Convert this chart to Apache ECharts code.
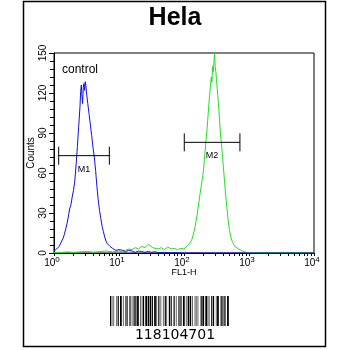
<!DOCTYPE html>
<html><head><meta charset="utf-8">
<script src="https://cdn.jsdelivr.net/npm/echarts@6/dist/echarts.min.js"></script>
<style>html,body{margin:0;padding:0;background:#fff}#c{width:350px;height:350px}</style>
</head><body><div id="c"></div>
<script>
const chartTitle = 'Hela';
const xAxisName = 'FL1-H';
const yAxisName = 'Counts';
const barcodeText = '118104701';
const controlLabel = 'control';

const xLabelValues = [1, 10, 100, 1000, 10000];
const xTickValues = [1,2,3,4,5,6,7,8,9,10,20,30,40,50,60,70,80,90,100,200,300,400,500,600,700,800,900,1000,2000,3000,4000,5000,6000,7000,8000,9000,10000];
const yMin = 0, yMax = 150, yStep = 30;

// control (blue): log10 channel position and counts
const controlExp = [0.00,0.02,0.04,0.06,0.08,0.10,0.12,0.14,0.16,0.18,0.20,0.22,0.24,0.26,0.28,0.30,0.32,0.34,0.36,0.38,0.40,0.41,0.42,0.43,0.44,0.45,0.46,0.47,0.48,0.49,0.50,0.52,0.54,0.56,0.58,0.60,0.62,0.64,0.66,0.68,0.70,0.72,0.74,0.76,0.78,0.80,0.82,0.84,0.86,0.88,0.90,0.92,0.95,0.98,1.00,1.03,1.06,1.10,1.15,1.20,1.25,1.30,1.35,1.40,1.45,1.50,1.55,1.60,1.70,1.80,1.90,2.00,2.50,3.00,3.50,4.00];
const controlCounts = [1.5,2,3,3.5,5,6.5,9,11,14,18,22,27,33,36,42,47,54,66,80,95,110,121,126,118,112,124,127,122,128.5,126,120,112,104,96,88,79,72,62,50,40,32,26,20,16,12,9,7,6.5,5,4,3.5,3,2,1.5,2.5,1,2,1,2,1.5,0.5,1.5,1,0.5,1.2,0.5,1,0.3,0.5,0.2,0.3,0,0,0,0,0];

// sample (green)
const sampleExp = [0.00,0.10,0.20,0.30,0.40,0.50,0.60,0.70,0.80,0.90,1.00,1.05,1.10,1.15,1.20,1.25,1.30,1.35,1.40,1.45,1.48,1.52,1.55,1.60,1.65,1.70,1.75,1.80,1.85,1.90,1.95,2.00,2.04,2.08,2.12,2.16,2.20,2.24,2.28,2.30,2.32,2.34,2.36,2.38,2.40,2.42,2.43,2.44,2.45,2.46,2.47,2.48,2.49,2.50,2.52,2.54,2.56,2.58,2.60,2.62,2.64,2.66,2.68,2.70,2.72,2.74,2.76,2.78,2.80,2.84,2.88,2.92,2.96,3.00,3.20,3.50,3.80,4.00];
const sampleCounts = [0.5,0.3,0.8,0.5,0.8,1.2,0.6,1,1.5,0.8,1.5,0.8,2,3,2.5,4,3,5,4,6.5,7.5,4,5.5,3,4,2.5,4.5,3,3.5,2.5,3.5,3,5,6.5,10,17,28,42,55,62,74,85,96,110,122,132,128,140,136,143,150,140,136,130,118,105,90,80,68,56,44,34,24,17,12,9,7,5,4,3,2,1,0.5,0.3,0.2,0.1,0.2,0];

// gate markers
const markerNames = ['M1', 'M2'];
const markerFrom = [1.18, 101];
const markerTo = [7.1, 725];
const markerLevel = [73, 83];

// barcode module widths (bar, space, bar, ...)
const barcodeModules = '211214112232131123221221213212112231312122311222131221132123221311211232123122131112142132311113212311332111211232';

const font = 'Liberation Sans, Arial, sans-serif';
const chart = echarts.init(document.getElementById('c'), null, {renderer: 'canvas'});

const toPairs = (ex, cs) => ex.map((e, i) => [Math.pow(10, e), cs[i]]);

// barcode graphic
const bcChildren = [];
(function () {
  const total = barcodeModules.split('').reduce((s, c) => s + (+c), 0);
  const w = 120, unit = w / total;
  let x = 0;
  barcodeModules.split('').forEach((c, i) => {
    const m = +c * unit;
    if (i % 2 === 0) bcChildren.push({type: 'rect', shape: {x: x, y: 0, width: m, height: 30}, style: {fill: '#000'}});
    x += m;
  });
})();

chart.setOption({
  animation: false,
  backgroundColor: '#fff',
  title: {
    text: chartTitle, left: 'center', top: 1,
    textStyle: {fontFamily: font, fontSize: 25, fontWeight: 'bold', color: '#000'}
  },
  grid: {left: 54, top: 53, width: 260, height: 200, show: true, borderColor: '#000', borderWidth: 1, containLabel: false},
  xAxis: {
    type: 'log', logBase: 10, min: 1, max: 10000,
    name: xAxisName, nameLocation: 'middle', nameGap: 15, nameMoveOverlap: false,
    nameTextStyle: {fontFamily: font, fontSize: 9, color: '#000'},
    axisLine: {show: true, lineStyle: {color: '#000', width: 1}},
    axisTick: {show: true, inside: false, length: 3, customValues: xTickValues, lineStyle: {color: '#000'}},
    axisLabel: {
      customValues: xLabelValues, margin: 3, color: '#000',
      formatter: v => '{b|10}{s|' + Math.round(Math.log10(v)) + '}',
      rich: {b: {fontFamily: font, fontSize: 10, color: '#000', verticalAlign: 'bottom'}, s: {fontFamily: font, fontSize: 8, color: '#000', verticalAlign: 'top', padding: [0, 0, 4, 0]}},
      padding: [0, 4, 0, 0]
    },
    splitLine: {show: false}
  },
  yAxis: {
    type: 'value', min: yMin, max: yMax, interval: yStep,
    name: yAxisName, nameLocation: 'middle', nameGap: 18, nameRotate: 90, nameMoveOverlap: false,
    nameTextStyle: {fontFamily: font, fontSize: 10, color: '#000'},
    axisLine: {show: true, lineStyle: {color: '#000', width: 1}},
    axisTick: {show: true, inside: false, length: 5, lineStyle: {color: '#000'}},
    minorTick: {show: true, splitNumber: 5, length: 4, lineStyle: {color: '#000'}},
    axisLabel: {rotate: 90, margin: 6, fontFamily: font, fontSize: 10, color: '#000'},
    splitLine: {show: false}, minorSplitLine: {show: false}
  },
  series: [
    {
      type: 'line', name: 'sample', data: toPairs(sampleExp, sampleCounts),
      showSymbol: false, symbol: 'none', lineStyle: {color: '#22e022', width: 1}, z: 2
    },
    {
      type: 'line', name: 'control', data: toPairs(controlExp, controlCounts),
      showSymbol: false, symbol: 'none', lineStyle: {color: '#1010e0', width: 1}, z: 3
    },
    {
      type: 'custom', name: 'markers', z: 5,
      data: markerNames.map((n, i) => [markerFrom[i], markerTo[i], markerLevel[i], n]),
      encode: {x: [0, 1], y: 2},
      renderItem: function (params, api) {
        const p1 = api.coord([api.value(0), api.value(2)]);
        const p2 = api.coord([api.value(1), api.value(2)]);
        const st = {stroke: '#000', lineWidth: 1};
        return {type: 'group', children: [
          {type: 'line', shape: {x1: p1[0], y1: p1[1], x2: p2[0], y2: p2[1]}, style: st},
          {type: 'line', shape: {x1: p1[0], y1: p1[1] - 9, x2: p1[0], y2: p1[1] + 9}, style: st},
          {type: 'line', shape: {x1: p2[0], y1: p2[1] - 9, x2: p2[0], y2: p2[1] + 9}, style: st},
          {type: 'text', x: (p1[0] + p2[0]) / 2, y: p1[1] + 9,
           style: {text: markerNames[params.dataIndex], fontFamily: font, fontSize: 9, fill: '#000', align: 'center', verticalAlign: 'top'}}
        ]};
      }
    }
  ],
  graphic: [
    {type: 'rect', shape: {x: 23.5, y: 1.5, width: 302, height: 345}, style: {fill: 'none', stroke: '#000', lineWidth: 1.5}, z: 10},
    {type: 'text', left: 62, top: 64, style: {text: controlLabel, fontFamily: font, fontSize: 12, fill: '#000'}},
    {type: 'group', left: 110, top: 296, children: bcChildren},
    {type: 'text', left: 'center', top: 328, style: {text: barcodeText, fontFamily: 'DejaVu Sans, sans-serif', fontSize: 14, fill: '#000'}}
  ]
});
</script>
</body></html>
